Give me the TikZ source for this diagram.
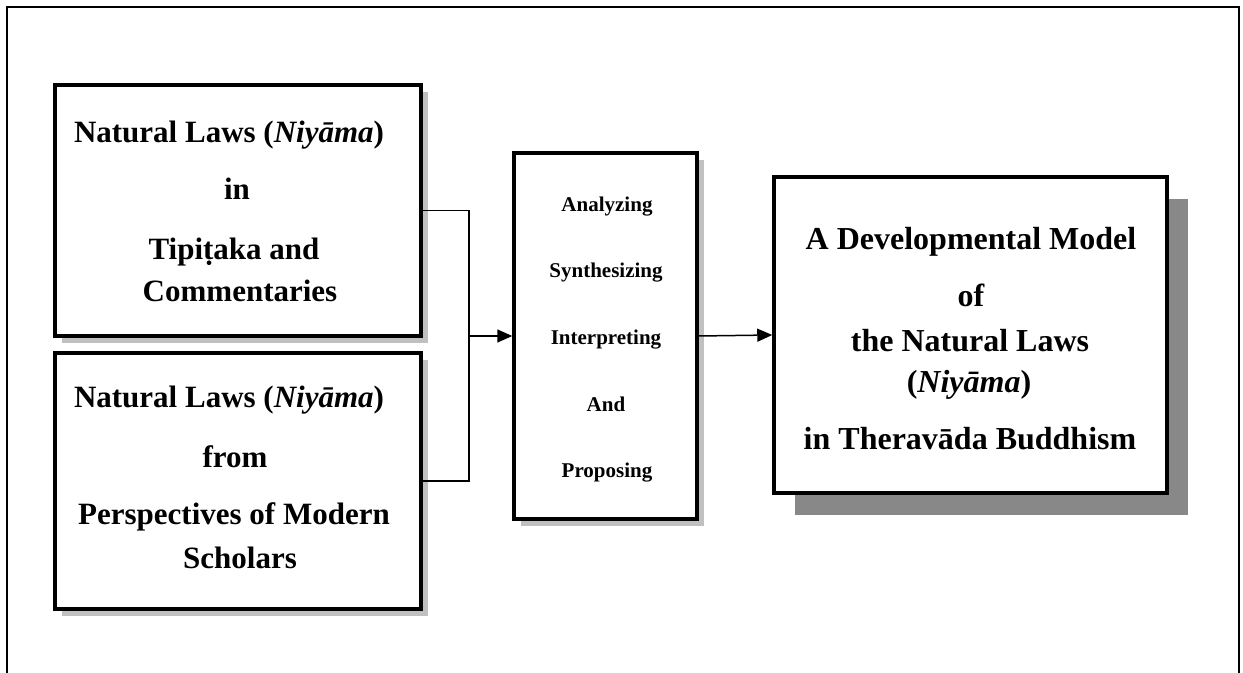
\documentclass[tikz,border=0pt]{standalone}
\usepackage{fontspec}
\setmainfont{Liberation Serif}
\usetikzlibrary{arrows.meta,shadows}

\definecolor{shadelight}{RGB}{192,192,192}
\definecolor{shadedark}{RGB}{136,136,136}

\begin{document}
\begin{tikzpicture}[x=0.5pt,y=-0.5pt,
  box/.style={draw, line width=2pt, fill=white, inner sep=0pt},
  softshadow/.style={drop shadow={shadow xshift=3.5pt, shadow yshift=-3.5pt, fill=shadelight, opacity=1}},
  deepshadow/.style={drop shadow={shadow xshift=10.5pt, shadow yshift=-11pt, fill=shadedark, opacity=1}},
  bigtext/.style={anchor=base, inner sep=0pt, font=\fontsize{15.5pt}{18pt}\selectfont\bfseries},
  hugetext/.style={anchor=base, inner sep=0pt, font=\fontsize{16pt}{19pt}\selectfont\bfseries},
  smalltext/.style={anchor=base, inner sep=0pt, font=\fontsize{10.5pt}{12pt}\selectfont\bfseries},
  link/.style={line width=0.75pt},
  tip/.style={-{Triangle[length=7.5pt,width=6.5pt]}}
]
\useasboundingbox (0,0) rectangle (1243,673);

% page frame, open at the bottom
\draw[line width=1pt] (7,673) -- (7,7) -- (1239,7) -- (1239,673);

% boxes
\node[box, softshadow, minimum width=183pt, minimum height=125.5pt] (src1) at (238,210.5) {};
\node[box, softshadow, minimum width=183pt, minimum height=128pt] (src2) at (238,481) {};
\node[box, softshadow, line width=1.75pt, minimum width=91.5pt, minimum height=183pt] (proc) at (605.5,336) {};
\node[box, deepshadow, line width=1.75pt, minimum width=196.5pt, minimum height=158pt] (model) at (970.5,335) {};

% first source
\node[bigtext] (s1a) at (229,143) {Natural Laws (\textit{Niyāma})};
\node[bigtext] (s1b) at (237,200) {in};
\node[bigtext] (s1c) at (234,260) {Tipiṭaka and};
\node[bigtext] (s1d) at (240,302) {Commentaries};

% second source
\node[bigtext] (s2a) at (229,408) {Natural Laws (\textit{Niyāma})};
\node[bigtext] (s2b) at (235,468) {from};
\node[bigtext] (s2c) at (234,525) {Perspectives of Modern};
\node[bigtext] (s2d) at (240,568) {Scholars};

% process steps
\node[smalltext] (p1) at (607,212) {Analyzing};
\node[smalltext] (p2) at (606,278) {Synthesizing};
\node[smalltext] (p3) at (606,345) {Interpreting};
\node[smalltext] (p4) at (606,412) {And};
\node[smalltext] (p5) at (607,478) {Proposing};

% result
\node[hugetext] (m1) at (971,250) {A Developmental Model};
\node[hugetext] (m2) at (971,307) {of};
\node[hugetext] (m3) at (970,352) {the Natural Laws};
\node[hugetext] (m4) at (969,393) {(\textit{Niyāma})};
\node[hugetext] (m5) at (970,450) {in Theravāda Buddhism};

% connectors
\coordinate (join) at (469,336);
\draw[link] (src1.east) -| (join);
\draw[link] (src2.east) -| (join);
\draw[link, tip] (join) -- (proc.west);
\draw[link, tip] (proc.east) -- (model.west);
\end{tikzpicture}
\end{document}
